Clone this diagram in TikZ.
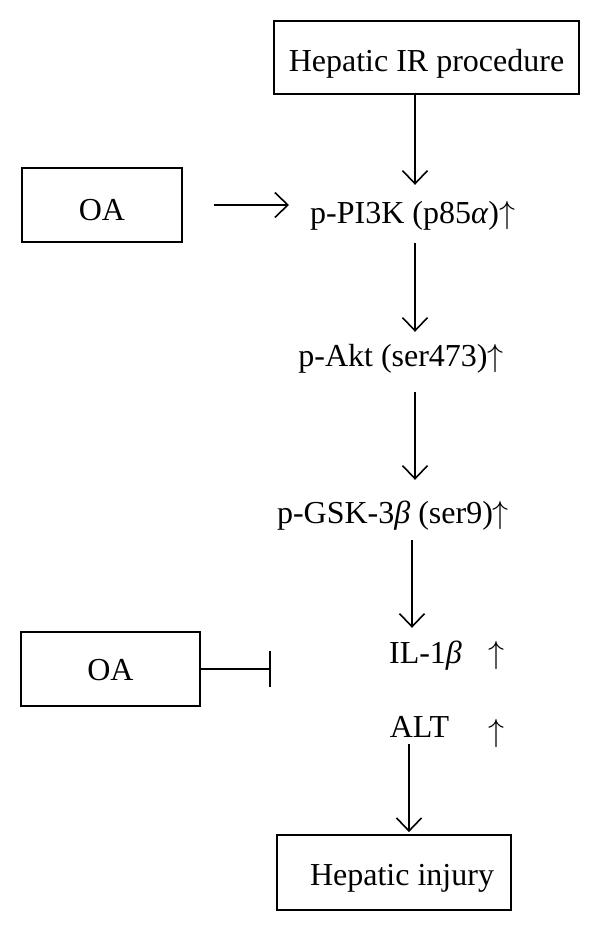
\documentclass[tikz,border=0pt]{standalone}
\usepackage{fix-cm}
\usepackage{fontspec}
\setmainfont{Liberation Serif}
\usetikzlibrary{arrows.meta}
\begin{document}
\begin{tikzpicture}[x=1pt,y=-1pt,
  every node/.style={font=\fontsize{32}{38}\selectfont},
  box/.style={draw, line width=1.8pt, inner sep=0pt, text depth=0pt},
  lbl/.style={inner sep=0pt, text height=24pt, text depth=7pt},
  arr/.style={line width=1.6pt, -{Straight Barb[length=13pt,width=25pt,line width=1.6pt]}},
  inh/.style={line width=1.6pt, -{Bar[width=36pt,line width=1.8pt]}}]
\useasboundingbox (0,0) rectangle (600,931);
% boxes
\node[box, text height=29pt, minimum width=305pt, minimum height=73pt] (top) at (426.5,57.5) {Hepatic IR procedure};
\node[box, text height=30pt, minimum width=160pt, minimum height=74pt] (oa1) at (102,205) {OA};
\node[box, text height=22pt, minimum width=179pt, minimum height=74pt] (oa2) at (110.5,669) {OA};
\node[box, text height=25pt, minimum width=234pt, minimum height=75pt] (inj) at (394,872.5) {\hspace*{16pt}Hepatic injury};
% labels
\node[lbl, anchor=base west] (pi3k) at (310,223) {p-PI3K (p85\textit{α})$\uparrow$};
\node[lbl, anchor=base] (akt) at (401,366) {p-Akt (ser473)$\uparrow$};
\node[lbl, anchor=base] (gsk) at (393,523) {p-GSK-3\textit{β} (ser9)$\uparrow$};
\node[lbl, anchor=base] (il) at (425.5,663) {IL-1\textit{β}};
\node[lbl, anchor=base] (ilup) at (496,663) {$\uparrow$};
\node[lbl, anchor=base] (alt) at (419.5,737) {ALT};
\node[lbl, anchor=base] (altup) at (496,741) {$\uparrow$};
% arrow columns
\coordinate (a1) at (415,0);
\coordinate (a2) at (412,0);
\coordinate (a3) at (409,0);
\coordinate (bar) at (271,669);
% connectors
\draw[arr, shorten >=14pt] (top.south -| a1) -- (pi3k.north -| a1);
\draw[arr, shorten <=13pt, shorten >=10pt] (pi3k.south -| a1) -- (akt.north -| a1);
\draw[arr, shorten <=19pt, shorten >=19pt] (akt.south -| a1) -- (gsk.north -| a1);
\draw[arr, shorten <=10pt, shorten >=11pt] (gsk.south -| a2) -- (il.north -| a2);
\draw[arr, shorten >=2pt] (alt.south -| a3) -- (inj.north -| a3);
\draw[arr, shorten <=31pt, shorten >=21pt] (oa1.east) -- (oa1.east -| pi3k.west);
\draw[inh] (oa2.east) -- (bar);
\end{tikzpicture}
\end{document}
